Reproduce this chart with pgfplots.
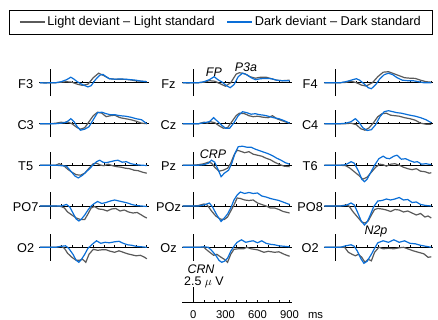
\documentclass[border=0pt]{standalone}
\usepackage{fontspec}
\setmainfont{Liberation Sans}
\usepackage{pgfplots}
\pgfplotsset{compat=1.18}
\definecolor{lgray}{RGB}{90,90,90}
\definecolor{dblue}{RGB}{10,110,215}
\newcommand{\chl}{\fontsize{12.8}{15}\selectfont}
\newcommand{\anl}{\fontsize{12.5}{15}\selectfont}
\newcommand{\tkl}{\fontsize{11.3}{13}\selectfont}
\pgfplotsset{
  panel/.style={
    x=0.107bp, y=1bp,
    xmin=-105, xmax=920, ymin=-13.5, ymax=13.5,
    axis lines=middle, axis line style={-, line width=0.8bp, black},
    xtick={100,200,...,900}, ytick=\empty, xticklabels={,,,,,,,,,},
    xtick align=inside, major tick length=2bp,
    tick style={line width=0.6bp, black},
    clip=false, anchor=origin,
  },
  gc/.style={lgray, line width=1.2bp, no markers},
  bc/.style={dblue, line width=1.2bp, no markers},
}
% #1 extra axis options, #2 x, #3 y, #4 label, #5 gray, #6 blue, #7 extra content
\newcommand{\panel}[7][]{%
\begin{axis}[panel, at={(#2bp,#3bp)}, #1]
\addplot[gc] coordinates {#5};
\addplot[bc] coordinates {#6};
\node[font=\chl] at (axis cs:-232,-1.2) {#4};
#7
\end{axis}}
\begin{document}
\begin{tikzpicture}
\useasboundingbox (0,0) rectangle (438bp,320bp);
% ---------- row 1
\panel[legend style={at={(1.657,2.748)}, anchor=center, legend columns=2, draw=black, line width=0.6bp, font=\chl, inner xsep=9.5bp, inner ysep=4.5bp, /tikz/every even column/.append style={column sep=10bp}},
 legend image code/.code={\draw[#1] (0bp,0bp) -- (25bp,0bp);}]
{50.5}{237.3}{F3}
{(-100,0)(-50,0)(0,0)(50,0)(100,0.5)(150,1)(200,0.5)(250,-1.5)(300,-2.7)(350,-1.5)(400,5)(450,9.5)(500,7)(550,4)(600,3.5)(650,3.5)(700,3.3)(750,2.8)(800,1.8)(850,1.5)(900,1)}
{(-100,0)(-50,-0.3)(0,0)(50,0)(100,1)(150,3)(190,5.5)(220,3.5)(250,1)(300,-2)(350,-4.2)(380,-3)(420,3)(460,7.5)(490,8.3)(520,6)(550,4)(600,3.5)(650,3.7)(700,3.5)(750,3)(800,2.5)(850,1.5)(900,1)}
{\addlegendentry{Light deviant – Light standard}\addlegendentry{Dark deviant – Dark standard}}
\panel{193.3}{237.3}{Fz}
{(-100,0)(-50,-0.3)(0,0)(50,0)(100,0.5)(150,2)(200,1.5)(250,-1)(300,-3.5)(350,0)(400,8.5)(430,10)(480,9)(530,6)(580,4.5)(630,5.5)(680,5.5)(730,4)(780,2.5)(830,2)(900,2.5)}
{(-100,0)(-50,0)(0,0)(50,0)(100,1)(150,3)(195,6)(230,3)(270,0.5)(310,-3)(345,-5)(380,-2)(420,6)(460,9.5)(500,8)(540,5)(580,3)(630,4)(680,4.2)(730,4)(780,2.5)(830,2)(900,2)}
{\node[font=\anl\itshape] at (axis cs:193,10.7) {FP};
 \node[font=\anl\itshape] at (axis cs:492,15.7) {P3a};}
\panel{335}{237.3}{F4}
{(-100,0)(-50,0)(0,0)(50,0)(100,0.3)(150,1.5)(200,0)(250,-2.5)(290,-3.3)(350,0)(400,6)(450,10.5)(500,11)(550,9)(600,7)(650,5)(700,4.5)(750,4.3)(800,2.5)(850,1)(900,0.5)}
{(-100,0)(-50,0)(0,0)(50,0)(100,1)(150,2.5)(200,4)(230,2.5)(270,-1)(310,-5)(340,-6)(380,-2)(420,4)(460,8)(500,9.5)(540,8)(580,5)(630,2.5)(680,2)(730,2)(780,1)(830,0)(900,0)}
{}
% ---------- row 2
\panel{50.5}{196.3}{C3}
{(-100,0)(-50,0)(0,0)(50,0.5)(100,1.5)(130,1)(150,2)(200,0)(250,-4)(280,-5.5)(320,-4)(360,2)(400,8)(440,11.5)(480,10.5)(520,7)(560,8)(600,8.5)(650,6)(700,5)(750,4)(800,2.5)(850,0.5)(900,0)}
{(-100,0)(-50,0)(0,0)(50,0)(100,0.5)(150,1.5)(190,5)(220,2)(250,-3)(280,-6.5)(320,-5.5)(360,-3)(400,4)(440,11)(480,11.5)(520,10)(560,9)(600,9)(650,8)(700,7.5)(750,6.5)(800,5)(850,4)(900,0)}
{}
\panel{193.3}{196.3}{Cz}
{(-100,0)(-50,0)(0,0)(50,0)(100,1.5)(130,0.5)(160,2)(200,1)(240,-2)(280,-4.5)(320,-4)(360,2)(400,8)(430,10.5)(480,10)(520,8)(560,7)(600,7.5)(650,6.5)(700,6)(740,8)(780,5)(830,3)(870,1.5)(900,0.5)}
{(-100,0)(-50,0)(0,0)(50,0)(100,1)(150,2)(190,6)(220,3)(260,-1)(300,-4.5)(340,-4.5)(380,1)(420,8)(460,12)(500,11)(540,9.5)(580,10)(620,9)(660,8.5)(700,7.5)(750,6)(800,5)(850,3)(900,0.5)}
{}
\panel{335}{196.3}{C4}
{(-100,0)(-50,0)(0,0)(50,0)(100,0)(150,0.5)(200,-1)(240,-5)(280,-6.5)(320,-4)(360,1)(400,7)(440,10)(480,10.5)(520,8.5)(560,8)(600,7.5)(650,6)(700,5)(750,3.5)(800,0.5)(850,-0.5)(900,-0.7)}
{(-100,0)(-50,0)(0,0)(50,0)(100,0.5)(150,2)(190,5)(220,2)(260,-4)(300,-6.8)(340,-6)(380,-1)(420,7)(460,12)(500,13)(540,12)(580,11)(620,10.5)(660,9.5)(700,8.5)(750,7.5)(800,6)(850,4)(900,1)}
{}
% ---------- row 3
\panel{50.5}{154.8}{T5}
{(-100,0)(-50,0)(0,0)(50,0)(80,1.5)(100,0.5)(130,-1)(160,-4)(200,-7)(240,-9.5)(280,-10)(320,-8)(360,-3)(400,1.5)(430,2)(470,0)(500,-0.5)(540,1)(580,-0.5)(620,-1.5)(660,-2)(700,-3)(740,-3.5)(780,-5)(820,-5.5)(860,-7)(900,-8)}
{(-100,0)(-50,0)(0,0)(50,0)(100,-0.5)(150,-1)(190,-6)(230,-11)(260,-12.7)(300,-10)(340,-6)(370,-3)(400,0.5)(430,3.5)(460,5)(490,3)(520,2.5)(560,3.5)(600,4.5)(630,5)(670,3)(710,3.5)(750,1.5)(800,0.5)(850,0)(900,-0.3)}
{}
\panel{193.3}{154.8}{Pz}
{(-100,0)(-50,0)(0,0)(50,0.5)(100,1.5)(140,3)(170,2)(200,-2)(240,-6)(280,-5)(320,-3)(350,2)(380,10)(410,15)(440,14)(480,12.5)(520,13.5)(560,11)(600,10)(640,9)(680,7)(720,5.5)(760,3)(800,1)(850,-1)(900,-1.5)}
{(-100,0)(-50,0)(0,0)(50,0)(100,0.5)(140,2)(170,5)(200,3)(230,-4)(260,-11.5)(290,-8)(330,-5)(360,2)(390,12)(420,18.5)(460,19)(500,18)(540,18)(580,16)(620,14.5)(660,13)(700,11.5)(740,9.5)(780,7)(820,5)(860,2.5)(900,1)}
{\node[font=\anl\itshape] at (axis cs:184,11.2) {CRP};}
\panel{335}{154.8}{T6}
{(-100,0)(-50,0)(0,0)(50,0)(100,-0.5)(140,-3)(180,-6.5)(220,-10)(260,-14)(300,-12)(340,-7)(380,-2)(420,1)(450,0.5)(480,-1)(520,1)(560,1.5)(600,0)(640,-2)(680,-3.5)(720,-4.5)(760,-3.5)(800,-6)(840,-6.5)(880,-8)(900,-7.5)}
{(-100,0)(-50,0)(0,0)(50,0)(100,0.5)(150,3.5)(180,2)(220,-6)(250,-14)(275,-16.5)(300,-14)(340,-6)(370,0)(410,6.5)(450,9)(480,7)(510,6.5)(550,9)(580,10)(620,6)(660,6.5)(700,4.5)(740,3)(770,3.5)(810,1)(850,1.5)(900,0.5)}
{}
% ---------- row 4
\panel{50.5}{114}{PO7}
{(-100,0)(-50,0)(0,0)(50,0)(100,-0.5)(130,-2)(160,-6)(200,-9)(240,-12)(280,-13.5)(320,-13.5)(350,-8)(380,-2)(410,-0.5)(450,-3)(490,-3.5)(530,-5)(570,-3)(610,-2.5)(650,-5)(690,-4)(730,-6)(770,-7)(810,-6.5)(850,-9)(880,-11)(900,-12)}
{(-100,0)(-50,0)(0,0)(50,0)(100,0)(150,1.5)(180,-1)(210,-7)(240,-13)(265,-15)(290,-13)(320,-9)(350,-4)(380,0)(410,2.5)(440,4.5)(480,2.5)(520,3.5)(560,5)(600,6)(640,5)(680,4)(720,3)(760,1.5)(800,0.5)(850,0)(900,-0.5)}
{}
\panel{193.3}{114}{POz}
{(-100,0)(-50,0)(0,0)(50,0.5)(100,2)(130,1)(170,-5)(210,-10)(250,-13)(290,-13.5)(320,-11)(350,-5)(380,1)(410,8)(440,7.5)(480,6)(520,5.5)(560,6)(600,3)(640,1.5)(680,0)(720,-2)(760,-2)(800,-3.5)(840,-5.5)(880,-6.5)(900,-7)}
{(-100,0)(-50,0)(0,0)(50,0)(100,1)(150,3)(180,-1)(220,-9)(260,-15.5)(290,-12)(320,-8)(350,-2)(380,6)(410,11)(440,14)(480,12.5)(520,13.5)(560,12.5)(600,13)(640,10)(680,9)(720,7.5)(760,6.5)(800,5.5)(850,3.5)(900,1.5)}
{}
\panel{335}{114}{PO8}
{(-100,0)(-50,0)(0,0)(50,0)(100,1)(130,0)(170,-6)(210,-11)(250,-16)(280,-17)(310,-15)(340,-9)(370,-3.5)(400,-2.5)(440,-3)(480,-4)(520,-5.5)(560,-3.5)(600,-4)(640,-6)(680,-5)(720,-7)(760,-9)(800,-7.5)(840,-11)(870,-10)(900,-12)}
{(-100,0)(-50,0)(0,0)(50,0)(100,0.5)(150,3)(180,1)(210,-6)(245,-15)(275,-19)(300,-16)(330,-9)(360,-1)(400,5)(440,5.5)(480,7)(520,6)(560,7)(600,8.5)(640,6)(680,6.5)(720,3.5)(760,4)(800,1.5)(850,0.5)(900,0)}
{}
% ---------- row 5
\panel{50.5}{72.7}{O2}
{(-100,0)(-50,0)(0,0)(50,0)(100,1)(130,-1)(160,-6)(200,-10)(240,-13)(270,-13)(300,-12)(330,-15)(360,-7)(400,-2)(440,-3)(480,-2.5)(520,-2.5)(560,-4)(600,-5)(640,-3.5)(680,-5)(720,-6.5)(760,-7.5)(800,-8.5)(840,-8)(880,-10)(900,-11.5)}
{(-100,0)(-50,0)(0,0)(50,0)(100,1)(140,1.5)(170,-1)(210,-7)(240,-13)(265,-15)(290,-12)(320,-7)(350,-1)(390,3)(430,6.5)(470,4)(510,5)(550,4.5)(600,5.5)(640,6)(680,4)(720,2.5)(760,2)(800,1)(850,0.5)(900,0)}
{}
\panel{193.3}{72.7}{Oz}
{(-100,0)(-50,0)(0,0)(50,0)(100,0)(130,-3)(160,-5.5)(190,-8)(220,-7)(260,-10)(290,-12)(320,-15)(350,-7)(380,-2)(420,-1.5)(470,-1.5)(500,0)(540,-1.5)(600,-2.5)(660,-5)(700,-4)(760,-5)(800,-4.5)(850,-7)(900,-9)}
{(-100,0)(-50,0)(0,0)(50,0)(100,0.5)(140,0)(170,-3)(210,-8)(240,-13)(265,-15)(290,-14)(320,-11)(350,-4)(380,1)(410,5)(450,7.5)(490,5)(530,6)(560,6.5)(600,4.5)(640,6.5)(680,4)(720,3)(760,2.5)(800,1.5)(850,1)(900,0.5)}
{}
\panel{335}{72.7}{O2}
{(-100,0)(-50,0)(0,0)(50,0)(90,0)(125,-5)(160,-7)(190,-8.5)(220,-7)(250,-10)(280,-15)(310,-12)(340,-13.5)(370,-5)(410,0)(450,-1.5)(500,-1)(550,-1.5)(600,-0.5)(640,0)(680,-1.5)(730,-3.5)(780,-5)(830,-6.5)(870,-10)(900,-9.5)}
{(-100,0)(-50,0)(0,0)(50,0)(100,1.5)(150,2.5)(180,1)(210,-4)(240,-11)(270,-16)(300,-14)(340,-7)(370,-1)(400,4.5)(450,6.5)(500,5)(550,7.5)(600,5)(650,6.5)(700,4)(750,3.5)(800,2)(850,1)(900,0)}
{\node[font=\anl\itshape] at (axis cs:383,16.3) {N2p};}
% ---------- scale
\begin{axis}[x=0.107bp, y=1bp, xmin=-105, xmax=920, ymin=0, ymax=15,
  axis lines=middle, axis line style={-, line width=0.8bp, black},
  xtick={0,100,...,900}, xticklabels={0,,,300,,,600,,,900}, ytick=\empty,
  hide obscured x ticks=false,
  xtick align=inside, major tick length=2bp, tick style={line width=0.6bp, black},
  xticklabel style={font=\tkl, anchor=base, yshift=-16bp},
  clip=false, anchor=origin, at={(193.3bp,18bp)}]
\node[font=\tkl, anchor=base west] at (axis cs:1040,-16) {ms};
\node[font=\anl] at (axis cs:100,20) {2.5 $\mu$ V};
\node[font=\anl\itshape] at (axis cs:72,33) {CRN};
\end{axis}
\end{tikzpicture}
\end{document}
